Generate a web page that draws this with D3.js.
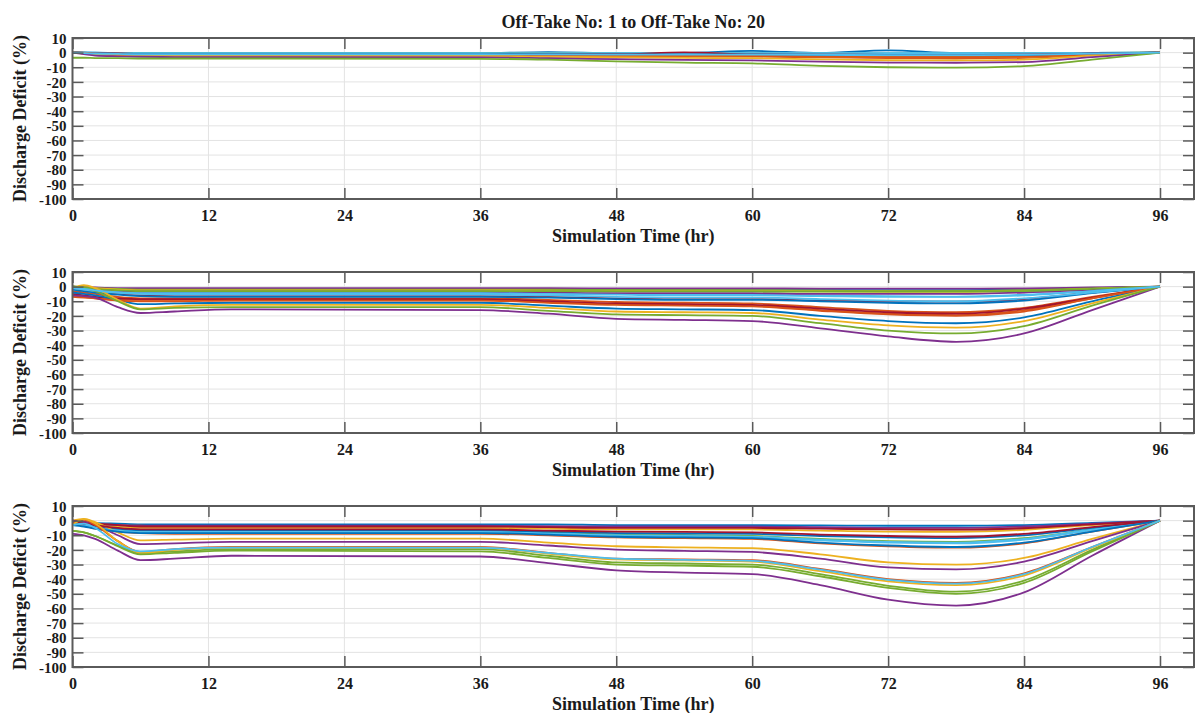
<!DOCTYPE html>
<html>
<head>
<meta charset="utf-8">
<script src="https://cdn.jsdelivr.net/npm/d3@7"></script>
<style>
  body { margin: 0; background: #fff; }
  svg text { font-family: "Liberation Serif", "Times New Roman", serif; font-weight: bold; fill: #1a1a1a; }
</style>
</head>
<body>
<svg id="chart" width="1195" height="713"></svg>
<script>
// Sample times shared by every off-take series (hr)
const hours = [0, 1, 2, 4, 6, 9, 14, 36, 42, 48, 54, 60, 66, 72, 78, 84, 90, 96];

const xTicks = [0, 12, 24, 36, 48, 60, 72, 84, 96];
const yTicks = [10, 0, -10, -20, -30, -40, -50, -60, -70, -80, -90, -100];

// MATLAB default line colour order, cycled over the 20 off-takes
const colorOrder = ["#0072BD", "#D95319", "#EDB120", "#7E2F8E", "#77AC30", "#4DBEEE", "#A2142F"];

const titleText = "Off-Take No: 1 to Off-Take No: 20";
const xLabel = "Simulation Time (hr)";
const yLabel = "Discharge Deficit (%)";

// Discharge deficit (%) for off-takes 1..20, top panel
const panel1 = [
  [0, 0, 0, -0.2, -0.3, -0.3, -0.3, -0.3, 0.4, -0.3, -0.3, 1.2, -0.3, 1.6, -0.4, -0.3, -0.1, 0],
  [0, -0.3, -0.8, -1.2, -1.5, -1.5, -1.5, -1.5, -1.5, -0.8, -1.5, -1.6, -1.8, -2, -2, -1.6, -0.8, 0],
  [0, -0.2, -0.4, -0.5, -0.5, -0.5, -0.5, -0.5, -0.5, -0.6, -0.6, -0.6, -0.7, -0.8, -0.8, -0.6, -0.3, 0],
  [0, -0.5, -1, -1.5, -1.8, -1.8, -1.8, -1.8, -2, -2.2, -2.3, -2.4, -2.8, -3.2, -3.3, -2.9, -1.3, 0],
  [0, -0.1, -0.2, -0.3, -0.3, -0.3, -0.3, -0.3, -0.3, -0.4, -0.4, -0.4, -0.5, -0.5, -0.5, -0.4, -0.2, 0],
  [0.5, 0.3, 0, -0.2, -0.3, -0.3, -0.3, -0.3, -0.3, -0.3, -0.3, -0.3, -0.4, -0.4, -0.4, -0.3, -0.1, 0],
  [0, -0.3, -0.6, -1, -1.2, -1.2, -1.2, -1.2, -1.3, -1.4, -1.5, -1.5, -1.7, -2, -2, -1.8, -0.8, 0],
  [0, -0.2, -0.4, -0.6, -0.7, -0.7, -0.7, -0.7, -0.8, -0.9, -0.9, -0.9, -1, -1.2, -1.2, -1, -0.5, 0],
  [0, -0.5, -1, -1.5, -2, -2, -2, -2, -2.2, -2.5, -2.6, -2.7, -3.2, -3.8, -4, -3.6, -1.5, 0],
  [0, -0.4, -0.8, -1.2, -1.5, -1.5, -1.5, -1.5, -1.7, -2, -2.1, -2.2, -2.6, -3, -3.1, -2.8, -1.2, 0],
  [0, -0.2, -0.4, -0.6, -0.8, -0.8, -0.8, -0.8, -0.9, -1, -1, -1, -1.2, -1.3, -1.4, -1.2, -0.5, 0],
  [0, -0.2, -0.3, -0.5, -0.6, -0.6, -0.6, -0.6, -0.7, -0.8, -0.8, -0.8, -0.9, -1, -1, -0.9, -0.4, 0],
  [0, -0.1, -0.2, -0.3, -0.4, -0.4, -0.4, -0.4, -0.5, -0.5, -0.5, -0.5, -0.6, -0.6, -0.6, -0.5, -0.2, 0],
  [0, -0.2, -0.4, -0.6, -0.8, -0.8, -0.8, -0.8, -1, -1.1, 0.2, -1.2, -1.4, -1.5, -1.6, -1.4, -0.6, 0],
  [0, -0.3, -0.5, -0.8, -1, -1, -1, -1, -1.2, -1.3, -1.4, -1.4, -1.6, -1.8, -1.9, -1.7, -0.7, 0],
  [0, 0, -0.5, -1, -1.5, -1.5, -1.5, -1.5, -1.8, -2, -2.2, -2.3, -2.7, -3, -3.1, -2.8, -1.2, 0],
  [0, -0.5, -1, -1.5, -2, -2, -2, -2.2, -2.8, -3.2, -3.6, -3.8, -4.6, -5.2, -5.3, -4.8, -2, 0],
  [0, -1, -2, -2.5, -2.8, -3, -3, -3.2, -3.8, -4.5, -5, -5.3, -6.2, -6.8, -6.9, -6.5, -3, 0],
  [-3.5, -3.5, -3.7, -3.8, -4, -4, -4, -4.2, -4.8, -6, -6.8, -7.3, -9, -10, -10.3, -9.2, -4.8, 0],
  [0, -0.3, -0.6, -0.9, -1.1, -1.1, -1.1, -1.1, -1.2, -1.3, -1.3, -1.3, -1.5, -1.7, -1.7, -1.5, -0.7, 0]
];

// middle panel
const panel2 = [
  [0, -0.5, -1, -1.5, -1.8, -2, -2, -2, -2, -2.2, -2.2, -2.2, -2.3, -2.4, -2.4, -2, -1, 0],
  [-3, -4, -5, -7, -8, -8, -8, -8, -9, -10.5, -11, -11.5, -14, -16.5, -17.5, -14.5, -7, 0],
  [0, -0.5, -1, -1.5, -2, -2, -2, -2, -2.2, -2.5, -2.5, -2.5, -2.8, -3, -3, -2.5, -1.2, 0],
  [0, -0.3, -0.6, -1, -1, -1, -1, -1, -1, -1.2, -1.2, -1.2, -1.3, -1.4, -1.4, -1.2, -0.6, 0],
  [0, -0.5, -1, -1.5, -2, -2, -2, -2, -2, -2.3, -2.4, -2.5, -2.8, -3, -3, -2.5, -1.2, 0],
  [0, -1, -2, -3, -3.5, -4, -4, -4, -4.5, -5, -5.2, -5.5, -6, -6.5, -6.8, -5.5, -2.8, 0],
  [-1, -2, -3, -5, -6, -6.5, -6.5, -6.5, -7, -8, -8.5, -8.5, -9.5, -10, -10.3, -8.5, -4, 0],
  [-2, -3, -4, -5.5, -6.5, -7, -7, -7, -7.5, -8.5, -9, -9, -10, -11, -11.5, -9.5, -4.5, 0],
  [-6, -7, -8, -9, -9, -9, -9, -9, -10.5, -12, -12.5, -13, -16, -18.5, -19.5, -16, -8, 0],
  [0, -0.5, -1, -2, -2.5, -2.5, -2.5, -2.5, -2.7, -3, -3, -3, -3.3, -3.5, -3.6, -3, -1.5, 0],
  [0, -1, -2, -3, -3.5, -3.5, -3.5, -3.5, -4, -4.5, -4.5, -4.5, -5, -5, -5, -4, -2, 0],
  [0, -0.5, -1.5, -2.5, -3, -3, -3, -3, -3, -3.2, -3.3, -3.3, -3.4, -3.4, -3.4, -3, -1.5, 0],
  [-1, -2, -3, -4, -4.5, -4.5, -4.5, -4.5, -5, -5.5, -6, -6, -6.5, -7, -7, -6, -3, 0],
  [-5, -6, -7, -8, -8.5, -8.5, -8.5, -8.5, -10, -11.5, -12, -12.5, -15, -17.5, -18.5, -15, -7.5, 0],
  [-4, -5, -6, -9, -12, -11.5, -11, -11, -13, -15, -15.5, -16, -20, -23.5, -25, -21, -10, 0],
  [-7, -7.5, -8, -9.5, -10, -10, -9.5, -9.5, -11, -12.5, -13, -13.5, -16.5, -19, -20, -17, -8, 0],
  [-1, 1, -1, -9, -15, -13.5, -12.5, -12.5, -14.5, -17, -17.5, -18, -22.5, -26.5, -28, -23.5, -11.5, 0],
  [-6, -6.5, -7.5, -14, -18, -17, -15.5, -16, -18.5, -22, -22.7, -23.5, -28.5, -34, -37.7, -32, -16, 0],
  [0, -1, -3, -10, -15.5, -14.5, -14, -14, -16.5, -19, -19.5, -20, -25, -30, -32, -27, -13, 0],
  [-1, -1.5, -2.5, -4, -5, -5.5, -5.5, -5.5, -6, -7, -7.5, -7.5, -8.5, -9.5, -10, -8, -4, 0]
];

// bottom panel
const panel3 = [
  [0, -1, -1.5, -2, -2.5, -2.5, -2.5, -2.5, -2.5, -3, -3, -3, -3.3, -3.5, -3.5, -3, -1.5, 0],
  [0, -1, -2, -3, -3.5, -4, -4, -4, -4.2, -4.5, -4.5, -4.5, -5, -5.8, -6, -5, -2.5, 0],
  [-1, -1.5, -2.5, -4, -5, -5, -5, -5, -5.5, -6, -6, -6, -6.8, -7.5, -7.6, -6.3, -3, 0],
  [0, -1, -2, -3, -3.5, -3.5, -3.5, -3.5, -3.7, -4, -4, -4, -4.5, -5, -5, -4, -2, 0],
  [-1, -2, -4, -6, -7, -7, -7, -7, -8, -9.5, -10, -10.5, -12.5, -14, -14.5, -12, -6, 0],
  [-1, -2, -4, -6, -7, -7.5, -7.5, -7.5, -8.5, -10, -10.5, -11, -13, -14.5, -15, -12.5, -6, 0],
  [0, -1, -2, -3, -4, -4, -4, -4, -4.5, -5, -5, -5, -5.5, -6, -6.2, -5.2, -2.5, 0],
  [-2, -2.5, -3.5, -5.5, -6.5, -6.5, -6.5, -6.5, -7.5, -8.5, -8.8, -9, -10.5, -11.5, -12, -10, -5, 0],
  [-2, -3.5, -5.5, -7.5, -8.5, -9, -9, -9, -10, -11.5, -12, -12.5, -15.5, -17.5, -18.5, -15.5, -7.5, 0],
  [0, 1.2, -1, -8, -13.5, -13, -12.3, -12.3, -15, -17.5, -18.2, -18.8, -23, -28.5, -30, -25.5, -12.5, 0],
  [0, -1, -3, -10, -16, -15.5, -14.5, -14.5, -17, -19.8, -20.6, -21.4, -26, -32, -33.3, -28, -14, 0],
  [-7, -8, -10.5, -17, -22, -21, -19.5, -19.5, -24, -28.5, -29.3, -30, -36.5, -44.5, -48.5, -41, -20, 0],
  [-2, -3, -5, -7, -8, -8, -8, -8, -9, -10.5, -11, -11.5, -13.5, -15, -15.5, -13, -6.5, 0],
  [-1, -2, -3, -5, -6, -6, -6, -6, -6.8, -7.5, -7.7, -8, -9.5, -10.5, -11, -9, -4.5, 0],
  [-3, -4, -5.5, -7.5, -8.5, -8.5, -8.5, -8.5, -9.5, -11, -11.5, -12, -15, -17, -18, -15, -7.5, 0],
  [-2, 0.5, -3, -14, -21.5, -19.5, -18, -18, -22, -26, -26.5, -27, -33, -40, -42.5, -36, -18, 0],
  [-3, 1, -2, -14, -22, -20, -18.5, -18.5, -22.5, -26.5, -27.2, -28, -34.5, -41.5, -44, -37.5, -18.5, 0],
  [-9, -10, -12.5, -20.5, -27, -26, -24, -24.5, -29, -34, -35.5, -36.5, -44, -54, -58, -49, -24, 0],
  [-7, -8, -10.5, -17.5, -23, -22, -20.5, -21, -25.5, -30, -30.8, -31.5, -38, -46, -50, -42.5, -21, 0],
  [-3, -2, -5, -16, -21, -19.5, -18.5, -18.5, -22, -26, -26.8, -27.5, -33.5, -40.5, -43, -36.5, -18, 0]
];

const panels = [panel1, panel2, panel3];

// Layout (pixels)
const plotLeft = 72.5;
const plotRight = 1194;
const panelTops = [38, 272, 506];
const panelHeight = 161;
const tickLength = 11;
const axisColor = "#5a5a5a";

const svg = d3.select("#chart");

const x = d3.scaleLinear([0, 99], [plotLeft, plotRight]);

const line = d3.line()
  .x((d, i) => x(hours[i]))
  .curve(d3.curveMonotoneX);

// plain hyphen for negatives, like MATLAB
const plain = (d) => String(d);

panels.forEach((series, p) => {
  const top = panelTops[p];
  const bottom = top + panelHeight;
  const y = d3.scaleLinear([-100, 10], [bottom, top]);
  line.y((d) => y(d));

  const g = svg.append("g");

  // Clip the data to the axes box
  g.append("clipPath")
    .attr("id", `clip-${p}`)
    .append("rect")
    .attr("x", plotLeft)
    .attr("y", top)
    .attr("width", plotRight - plotLeft)
    .attr("height", panelHeight);

  // Grid lines
  g.append("g")
    .attr("stroke", "#e3e3e3")
    .attr("stroke-width", 1)
    .selectAll("line")
    .data(xTicks)
    .join("line")
    .attr("x1", (d) => x(d))
    .attr("x2", (d) => x(d))
    .attr("y1", top)
    .attr("y2", bottom);

  g.append("g")
    .attr("stroke", "#e3e3e3")
    .attr("stroke-width", 1)
    .selectAll("line")
    .data(yTicks)
    .join("line")
    .attr("x1", plotLeft)
    .attr("x2", plotRight)
    .attr("y1", (d) => y(d))
    .attr("y2", (d) => y(d));

  // Off-take lines, drawn in order so later ones sit on top
  g.append("g")
    .attr("clip-path", `url(#clip-${p})`)
    .attr("fill", "none")
    .attr("stroke-width", 1.8)
    .attr("stroke-linejoin", "round")
    .selectAll("path")
    .data(series)
    .join("path")
    .attr("stroke", (d, i) => colorOrder[i % colorOrder.length])
    .attr("d", (d) => line(d));

  // Axes: ticks point inward on all four sides
  const bottomAxis = g.append("g")
    .attr("transform", `translate(0,${bottom})`)
    .call(d3.axisBottom(x).tickValues(xTicks).tickSize(-tickLength).tickPadding(11).tickFormat(plain));

  const topAxis = g.append("g")
    .attr("transform", `translate(0,${top})`)
    .call(d3.axisTop(x).tickValues(xTicks).tickSize(-tickLength).tickFormat(""));

  const leftAxis = g.append("g")
    .attr("transform", `translate(${plotLeft},0)`)
    .call(d3.axisLeft(y).tickValues(yTicks).tickSize(-tickLength).tickPadding(6).tickFormat(plain));

  const rightAxis = g.append("g")
    .attr("transform", `translate(${plotRight},0)`)
    .call(d3.axisRight(y).tickValues(yTicks).tickSize(-tickLength).tickFormat(""));

  [bottomAxis, topAxis, leftAxis, rightAxis].forEach((a) => {
    a.select(".domain").remove();
    a.selectAll(".tick line").attr("stroke", axisColor).attr("stroke-width", 1.5);
    a.selectAll(".tick text")
      .attr("fill", "#1a1a1a")
      .attr("font-size", 16)
      .attr("font-family", null);
  });

  leftAxis.selectAll(".tick text")
    .attr("font-size", 15)
    .attr("dy", "0.34em");

  // Axes box
  g.append("rect")
    .attr("x", plotLeft)
    .attr("y", top)
    .attr("width", plotRight - plotLeft)
    .attr("height", panelHeight)
    .attr("fill", "none")
    .attr("stroke", axisColor)
    .attr("stroke-width", 2);

  // Axis labels
  g.append("text")
    .attr("x", (plotLeft + plotRight) / 2)
    .attr("y", bottom + 43)
    .attr("text-anchor", "middle")
    .attr("font-size", 18)
    .text(xLabel);

  g.append("text")
    .attr("transform", "rotate(-90)")
    .attr("x", -(top + bottom) / 2)
    .attr("y", 26)
    .attr("text-anchor", "middle")
    .attr("font-size", 18)
    .text(yLabel);
});

svg.append("text")
  .attr("x", (plotLeft + plotRight) / 2)
  .attr("y", 28)
  .attr("text-anchor", "middle")
  .attr("font-size", 18)
  .text(titleText);
</script>
</body>
</html>
